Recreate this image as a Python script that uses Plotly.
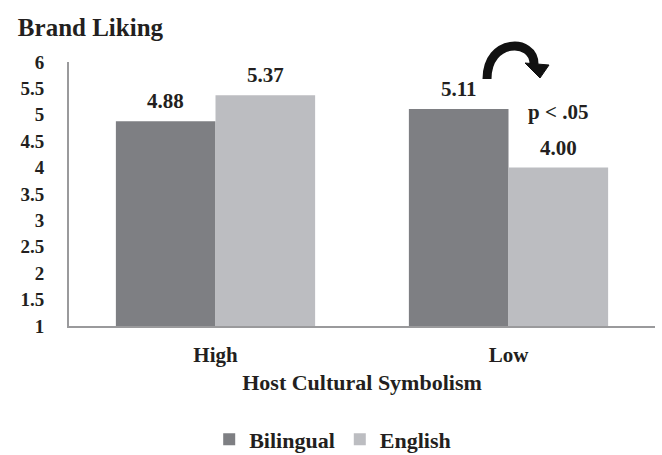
import plotly.graph_objects as go

categories = ["High", "Low"]
bilingual = [4.88, 5.11]
english = [5.37, 4.00]
y_ticks = [1, 1.5, 2, 2.5, 3, 3.5, 4, 4.5, 5, 5.5, 6]
y_tick_labels = ["1", "1.5", "2", "2.5", "3", "3.5", "4", "4.5", "5", "5.5", "6"]

FONT = "Liberation Serif, Times New Roman, serif"
INK = "#231f20"
DARK = "#7e7f83"
LIGHT = "#bcbdc1"
BARGAP = 0.32


def serif(size):
    return dict(family=FONT, size=size, color=INK)


fig = go.Figure()
for name, vals, color in (("Bilingual", bilingual, DARK), ("English", english, LIGHT)):
    fig.add_trace(go.Bar(
        x=categories, y=vals, name=f"<b>{name}</b>", marker_color=color,
        marker_line_width=0,
    ))

PLOT_W = 662 - 69 - 7
bar_px = PLOT_W / len(categories) * (1 - BARGAP) / 2

# Value labels above each bar, offset to the bar's slot within its group
for offset, vals in ((-0.5, bilingual), (0.5, english)):
    for cat, v in zip(categories, vals):
        fig.add_annotation(x=cat, y=v, xref="x", yref="y", text=f"<b>{v:.2f}</b>",
                           showarrow=False, yanchor="bottom", xshift=offset * bar_px,
                           yshift=6, font=serif(21))

fig.update_layout(
    width=662, height=455,
    margin=dict(l=69, r=7, t=62, b=129, autoexpand=False),
    paper_bgcolor="white", plot_bgcolor="white",
    barmode="group", bargap=BARGAP, bargroupgap=0,
    font=serif(20),
    title=dict(text="<b>Brand Liking</b>", x=0.027, xanchor="left",
               y=0.94, yanchor="middle", font=serif(25)),
    xaxis=dict(
        showline=True, linecolor="#9a9a9c", linewidth=2, automargin=False,
        tickfont=serif(21), ticks="", ticklabelstandoff=9,
        tickvals=categories, ticktext=[f"<b>{c}</b>" for c in categories],
        title=dict(text="<b>Host Cultural Symbolism</b>", font=serif(22), standoff=8),
    ),
    yaxis=dict(
        range=[1, 6], showline=True, linecolor="#9a9a9c", linewidth=2,
        showgrid=False, zeroline=False, automargin=False,
        tickvals=y_ticks, ticktext=[f"<b>{t}</b>" for t in y_tick_labels],
        tickfont=serif(19), ticks="", ticklabelstandoff=19,
    ),
    legend=dict(orientation="h", x=0.45, xanchor="center", y=-0.43, yanchor="middle",
                font=serif(22), itemwidth=30),
    showlegend=True,
)

# Significance note next to the Low group
fig.add_annotation(x=1.17, y=5.05, xref="x", yref="y", text="<b>p < .05</b>",
                   showarrow=False, font=serif(21))

# Curved arrow over the Low group, in paper coordinates of the plot area
def px(xp, yp):
    return ((xp - 69) / 586, (326 - yp) / 264)

x0, y0 = px(487, 79)
cx1, cy1 = px(487, 38)
cx2, cy2 = px(534, 38)
x1, y1 = px(534, 64)
fig.add_shape(type="path", xref="paper", yref="paper",
              path=f"M {x0} {y0} C {cx1} {cy1}, {cx2} {cy2}, {x1} {y1}",
              line=dict(color="#111", width=9))
a1 = px(525, 63)
a2 = px(549, 65)
a3 = px(540, 78)
fig.add_shape(type="path", xref="paper", yref="paper",
              path=f"M {a1[0]} {a1[1]} L {a2[0]} {a2[1]} L {a3[0]} {a3[1]} Z",
              fillcolor="#111", line=dict(color="#111", width=1))

fig.write_html("out.html")
